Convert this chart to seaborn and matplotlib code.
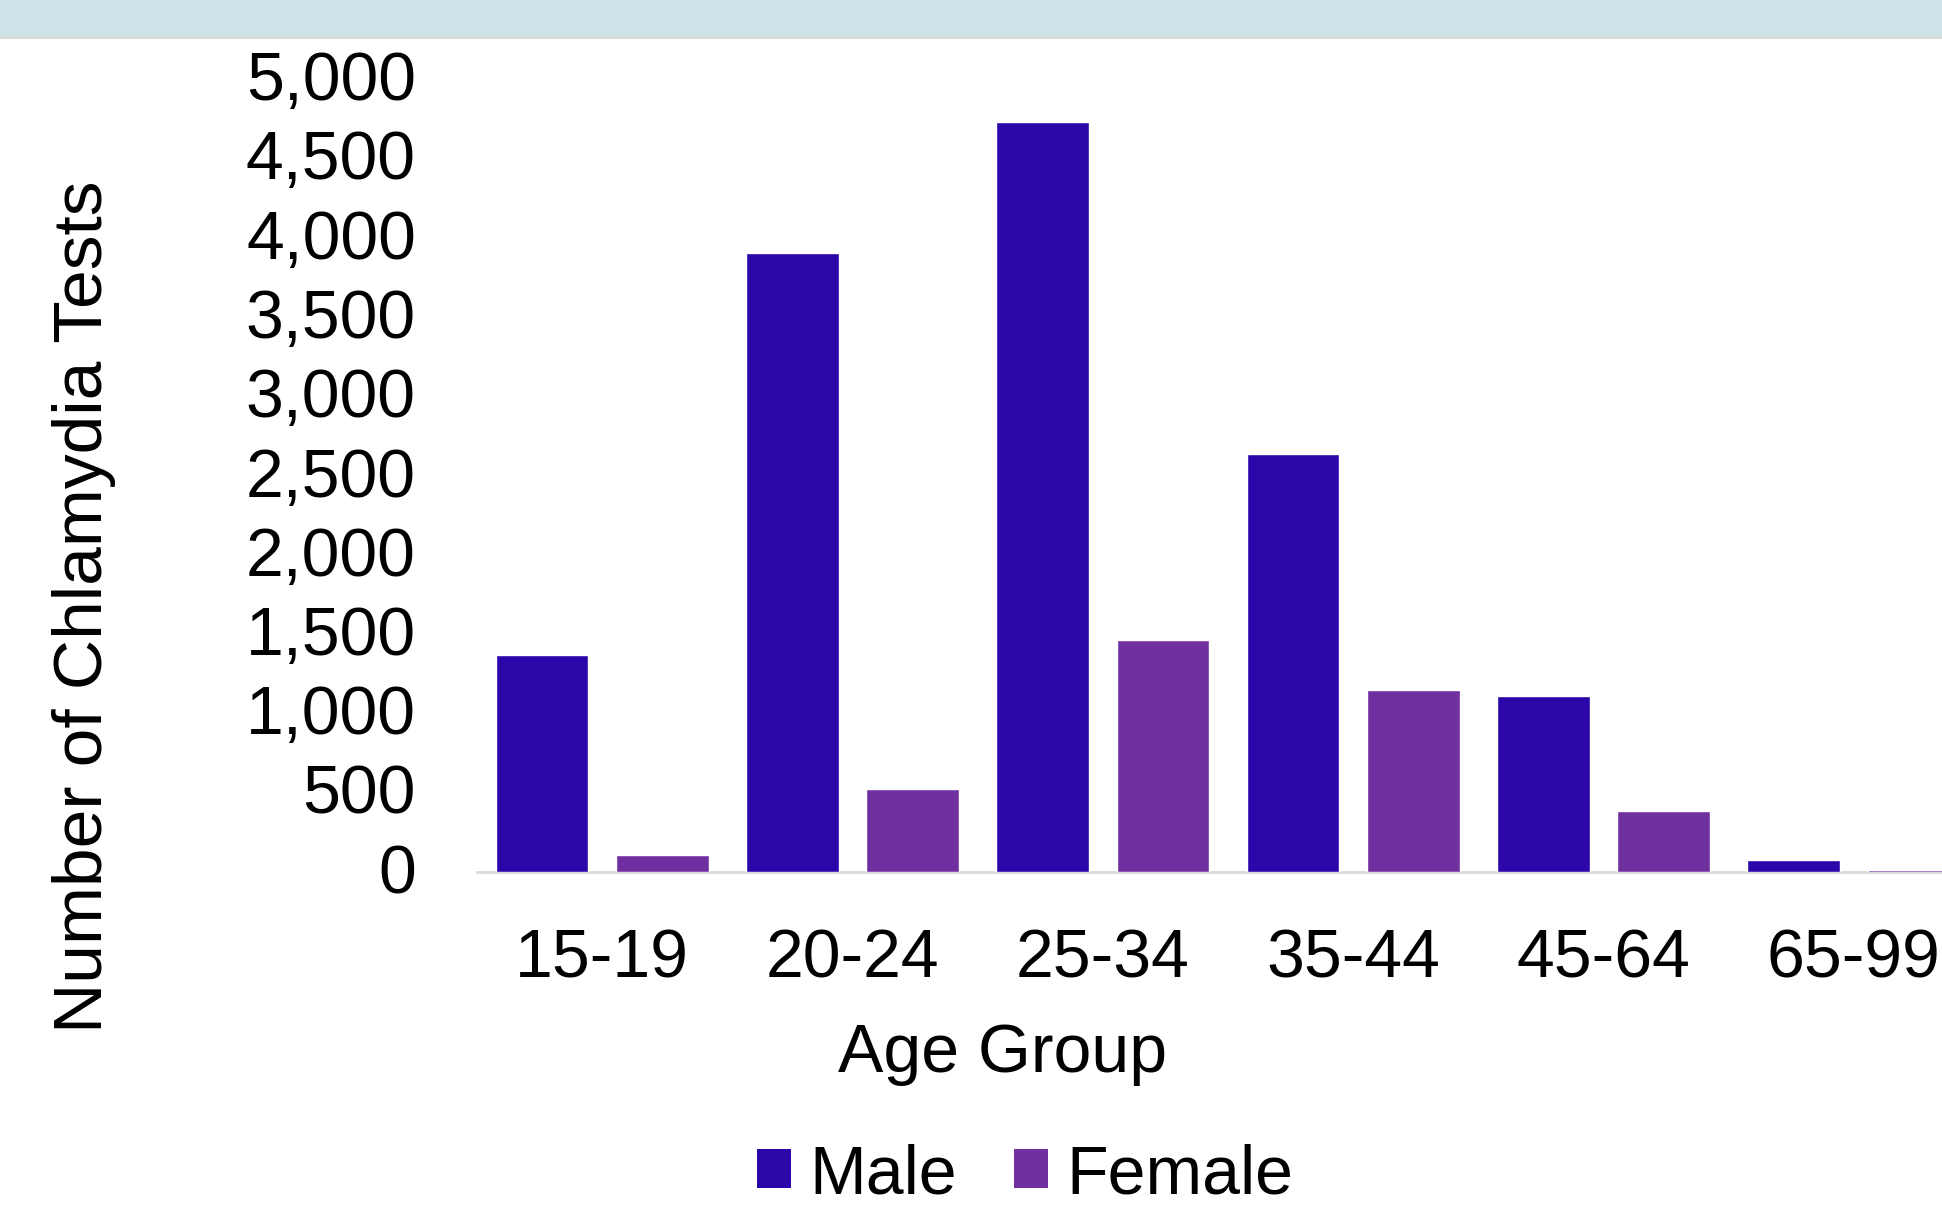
import numpy as np
import pandas as pd
import seaborn as sns
import matplotlib.pyplot as plt
from matplotlib.patches import Rectangle
from matplotlib.ticker import FuncFormatter, MultipleLocator
from matplotlib.transforms import ScaledTranslation

# Chlamydia tests by age group and sex
age_groups = ["15-19", "20-24", "25-34", "35-44", "45-64", "65-99"]
sexes = ["Male", "Female"]
male_tests = [1367, 3906, 4727, 2633, 1109, 78]
female_tests = [109, 523, 1461, 1148, 383, 12]
sex_colors = {"Male": "#2B06A8", "Female": "#7030A0"}

sns.set_theme(style="white")
plt.rcParams['font.family'] = ['Liberation Sans', 'DejaVu Sans']

df = pd.DataFrame({
    "Age Group": age_groups * 2,
    "Sex": ["Male"] * len(age_groups) + ["Female"] * len(age_groups),
    "Tests": male_tests + female_tests,
})

W, H = 1942, 1206
fig = plt.figure(figsize=(W / 100, H / 100), dpi=100)

# header band across the top
fig.patches.append(Rectangle((0, 1 - 36 / H), 1, 36 / H, transform=fig.transFigure,
                             facecolor="#CDE5E9", edgecolor="none", zorder=0))
fig.patches.append(Rectangle((0, 1 - 39 / H), 1, 3 / H, transform=fig.transFigure,
                             facecolor="#DADADA", edgecolor="none", zorder=0))

ax = fig.add_axes([477 / W, 334 / H, (1979 - 477) / W, 793 / H])
sns.barplot(data=df, x="Age Group", y="Tests", hue="Sex", order=age_groups,
            hue_order=sexes, palette=sex_colors, width=0.96, gap=0.23,
            saturation=1, errorbar=None, legend=False, ax=ax)
for bar in ax.patches:
    bar.set_zorder(2)

ax.set_ylim(0, 5000)
ax.yaxis.set_major_locator(MultipleLocator(500))
ax.yaxis.set_major_formatter(FuncFormatter(lambda v, p: f"{v:,.0f}"))

for s in ["left", "top", "right"]:
    ax.spines[s].set_visible(False)
ax.spines["bottom"].set_color("#D9D9D9")
ax.spines["bottom"].set_linewidth(2)
ax.spines["bottom"].set_zorder(1)

fs = 49
ax.tick_params(axis="y", length=0, labelsize=fs, pad=44, colors="black")
ax.tick_params(axis="x", length=0, labelsize=fs, pad=40, colors="black")
shift_up = ScaledTranslation(0, 4 / 100, fig.dpi_scale_trans)
for lbl in ax.get_yticklabels():
    lbl.set_transform(lbl.get_transform() + shift_up)

ax.set_ylabel("Number of Chlamydia Tests", fontsize=50, color="black", va="center")
ax.yaxis.set_label_coords((84 - 477) / (1979 - 477), (872 - 607) / 793)
ax.set_xlabel("Age Group", fontsize=fs, color="black", va="center")
ax.xaxis.set_label_coords((1003 - 477) / (1979 - 477), -(1054 - 872) / 793)

handles = [Rectangle((0, 0), 1, 1, facecolor=sex_colors[s], edgecolor="none") for s in sexes]
fig.legend(handles, sexes, loc="center", bbox_to_anchor=(1025 / W, 1 - 1175 / H),
           ncol=2, frameon=False, fontsize=fs, handlelength=0.5, handleheight=0.5,
           handletextpad=0.27, columnspacing=0.84, borderpad=0, borderaxespad=0,
           labelcolor="black")

fig.savefig("out.png", dpi=100, facecolor="white")
